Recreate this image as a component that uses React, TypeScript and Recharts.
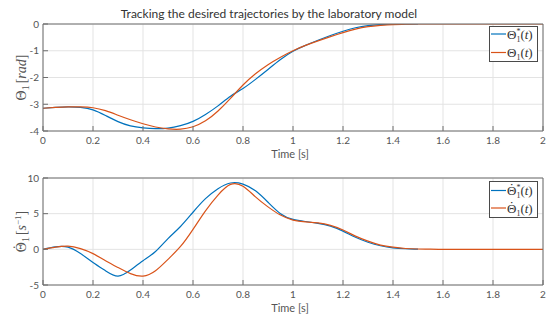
import React from 'react';
import { LineChart, Line, XAxis, YAxis, CartesianGrid, Legend } from 'recharts';

// time base (s)
const time = [
  0, 0.05, 0.1, 0.15, 0.2, 0.25, 0.3, 0.35, 0.4, 0.45, 0.5, 0.55, 0.6, 0.65, 0.7, 0.75, 0.8, 0.85, 0.9, 0.95,
  1, 1.05, 1.1, 1.15, 1.2, 1.25, 1.3, 1.35, 1.4, 1.45, 1.5, 1.55, 1.6, 1.65, 1.7, 1.75, 1.8, 1.85, 1.9, 1.95, 2,
];

// desired angle Θ1* (rad), ends at 1.5 s
const angleRef = [
  -3.15, -3.12, -3.1, -3.12, -3.21, -3.42, -3.65, -3.81, -3.88, -3.91, -3.89, -3.8, -3.64, -3.38, -3.06, -2.7,
  -2.41, -2.07, -1.7, -1.33, -1.02, -0.8, -0.61, -0.43, -0.27, -0.14, -0.06, -0.02, -0.005, 0, 0,
];
// measured angle Θ1 (rad)
const angleAct = [
  -3.15, -3.12, -3.1, -3.1, -3.13, -3.24, -3.41, -3.58, -3.73, -3.85, -3.92, -3.93, -3.84, -3.62, -3.25, -2.78,
  -2.28, -1.86, -1.52, -1.24, -1.0, -0.8, -0.63, -0.47, -0.32, -0.19, -0.1, -0.05, -0.02, -0.01,
  0, 0, 0, 0, 0, 0, 0, 0, 0, 0, 0,
];

// desired rate (1/s)
const rateRef = [
  0, 0.35, 0.3, -0.6, -1.85, -3.0, -3.75, -2.9, -1.6, -0.3, 1.5, 3.2, 5.2, 7.1, 8.5, 9.3, 9.15, 8.2, 6.6, 5.0,
  4.2, 3.9, 3.65, 3.25, 2.55, 1.7, 1.0, 0.5, 0.2, 0.08, 0.02,
];
// measured rate (1/s)
const rateAct = [
  0, 0.3, 0.45, 0.1, -0.6, -1.6, -2.55, -3.4, -3.75, -3.0, -1.4, 0.4, 2.8, 5.4, 7.6, 9.1, 8.85, 7.35, 5.95, 4.8,
  4.1, 3.85, 3.7, 3.35, 2.7, 1.85, 1.15, 0.6, 0.3, 0.12, 0.05, 0.02, 0, 0, 0, 0, 0, 0, 0, 0, 0,
];

const timeTicks = [0, 0.2, 0.4, 0.6, 0.8, 1, 1.2, 1.4, 1.6, 1.8, 2];
const angleTicks = [-4, -3, -2, -1, 0];
const rateTicks = [-5, 0, 5, 10];

const BLUE = '#0072BD';
const ORANGE = '#D95319';
const AXIS = '#6e6e6e';
const GRID = '#e3e3e3';
const SANS = 'Lato';
const SERIF = 'Liberation Serif';
const tickStyle = { fontFamily: SANS, fontSize: 10, fill: '#555' };

const build = (ref: number[], act: number[]) =>
  time.map((t, i) => ({ t, ref: ref[i] ?? null, act: act[i] ?? null }));

const angleData = build(angleRef, angleAct);
const rateData = build(rateRef, rateAct);

const TimeLabel = ({ baseline }: { baseline: number }) => (
  <text x={290} y={baseline} textAnchor="middle" fontFamily={SANS} fontSize={11} fill="#555">
    Time [s]
  </text>
);

const Title = () => (
  <text x={269} y={17.5} textAnchor="middle" fontFamily={SANS} fontSize={12} fill="#333">
    Tracking the desired trajectories by the laboratory model
  </text>
);

// Θ (optionally with a dot accent); returns pen offset the next tspan has to undo
const theta = (size: number, dotted: boolean) => {
  if (!dotted) return { el: <tspan>Θ</tspan>, back: { dx: 0, dy: 0 } };
  const dx = -0.53 * size;
  const dy = -0.2 * size;
  return {
    el: (
      <>
        <tspan>Θ</tspan>
        <tspan dx={dx} dy={dy}>˙</tspan>
      </>
    ),
    back: { dx: -(dx + 0.333 * size), dy: -dy },
  };
};

const YLabel = ({ mid, dotted, unit }: { mid: number; dotted: boolean; unit: 'rad' | 'rate' }) => {
  const th = theta(14, dotted);
  return (
    <text transform={`translate(26, ${mid}) rotate(-90)`} textAnchor="middle" fontFamily={SERIF} fontSize={14} fill="#555">
      {th.el}
      <tspan dx={th.back.dx} dy={3 + th.back.dy} fontSize={10}>1</tspan>
      <tspan dy={-3} dx={2}>[</tspan>
      {unit === 'rad' ? (
        <>
          <tspan fontStyle="italic">rad</tspan>
          <tspan>]</tspan>
        </>
      ) : (
        <>
          <tspan fontStyle="italic">s</tspan>
          <tspan dy={-5} fontSize={9}>−1</tspan>
          <tspan dy={5}>]</tspan>
        </>
      )}
    </text>
  );
};

const LegendEntry = ({ y, dotted, star }: { y: number; dotted: boolean; star: boolean }) => {
  const th = theta(13, dotted);
  return (
    <text x={18} y={y} fontFamily={SERIF} fontSize={13} fill="#333">
      {th.el}
      {star ? (
        <>
          <tspan dx={th.back.dx} dy={-5 + th.back.dy} fontSize={8}>*</tspan>
          <tspan dx={-4} dy={8} fontSize={8}>1</tspan>
        </>
      ) : (
        <tspan dx={th.back.dx} dy={3 + th.back.dy} fontSize={8}>1</tspan>
      )}
      <tspan dy={-3}>(</tspan>
      <tspan fontStyle="italic">t</tspan>
      <tspan>)</tspan>
    </text>
  );
};

const LegendBox = ({ dotted }: { dotted: boolean }) => {
  const rows = [
    { color: BLUE, star: true, cy: dotted ? 9.5 : 8 },
    { color: ORANGE, star: false, cy: dotted ? 27 : 26.5 },
  ];
  return (
    <svg width={50} height={37} style={{ display: 'block' }}>
      <rect x={0.5} y={0.5} width={48} height={dotted ? 36 : 35} fill="#fff" stroke="#4a4a4a" />
      {rows.map((r) => (
        <g key={r.color}>
          <line x1={2} x2={17} y1={r.cy} y2={r.cy} stroke={r.color} strokeWidth={1.2} />
          <LegendEntry y={r.cy + 4.5} dotted={dotted} star={r.star} />
        </g>
      ))}
    </svg>
  );
};

type PanelProps = {
  data: { t: number; ref: number | null; act: number | null }[];
  yDomain: [number, number];
  yTicks: number[];
  marginTop: number;
  axisHeight: number;
  legendTop: number;
  dotted: boolean;
  yLabel: React.ReactElement;
  title?: React.ReactElement;
};

const Panel = ({ data, yDomain, yTicks, marginTop, axisHeight, legendTop, dotted, yLabel, title }: PanelProps) => {
  const plotBottom = 160 - axisHeight;
  return (
    <LineChart width={547} height={160} data={data} margin={{ top: marginTop - 1, right: 3, bottom: 0, left: 0 }}>
      <CartesianGrid stroke={GRID} strokeWidth={1} />
      <XAxis
        dataKey="t"
        type="number"
        domain={[0, 2]}
        ticks={timeTicks}
        height={axisHeight}
        tickSize={-5}
        tickMargin={11}
        stroke={AXIS}
        tick={tickStyle}
        allowDataOverflow
        label={<TimeLabel baseline={plotBottom + 27} />}
      />
      <XAxis
        xAxisId="top"
        orientation="top"
        type="number"
        domain={[0, 2]}
        ticks={timeTicks}
        height={1}
        tickSize={-5}
        tick={false}
        stroke={AXIS}
        allowDataOverflow
        label={title}
      />
      <YAxis
        type="number"
        domain={yDomain}
        ticks={yTicks}
        width={43}
        tickSize={-5}
        tickMargin={9}
        stroke={AXIS}
        tick={tickStyle}
        allowDataOverflow
        label={yLabel}
      />
      <YAxis
        yAxisId="right"
        orientation="right"
        type="number"
        domain={yDomain}
        ticks={yTicks}
        width={1}
        tickSize={-5}
        tick={false}
        stroke={AXIS}
        allowDataOverflow
      />
      <Line dataKey="ref" type="natural" stroke={BLUE} strokeWidth={1.2} dot={false} isAnimationActive={false} />
      <Line dataKey="act" type="natural" stroke={ORANGE} strokeWidth={1.2} dot={false} isAnimationActive={false} />
      <Legend
        layout="horizontal"
        verticalAlign="middle"
        align="center"
        width={50}
        wrapperStyle={{ left: 489, top: legendTop, width: 50, height: 37 }}
        content={() => <LegendBox dotted={dotted} />}
      />
    </LineChart>
  );
};

export default function App() {
  return (
    <div style={{ position: 'absolute', left: 0, top: 0, width: 547, height: 320, background: '#fff' }}>
      <Panel
        data={angleData}
        yDomain={[-4, 0]}
        yTicks={angleTicks}
        marginTop={24}
        axisHeight={29}
        legendTop={26}
        dotted={false}
        yLabel={<YLabel mid={77.5} dotted={false} unit="rad" />}
        title={<Title />}
      />
      <Panel
        data={rateData}
        yDomain={[-5, 10]}
        yTicks={rateTicks}
        marginTop={18}
        axisHeight={35}
        legendTop={21}
        dotted={true}
        yLabel={<YLabel mid={231.5 - 160} dotted={true} unit="rate" />}
      />
    </div>
  );
}
